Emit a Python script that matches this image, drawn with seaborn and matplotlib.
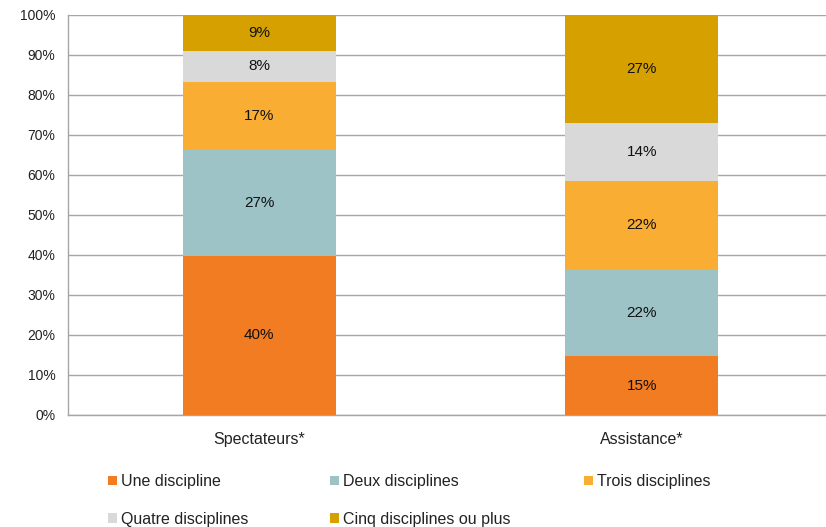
import matplotlib.pyplot as plt
import seaborn as sns
from matplotlib.patches import Patch

# catégories et séries (parts en %)
categories = ["Spectateurs*", "Assistance*"]
series_names = [
    "Une discipline",
    "Deux disciplines",
    "Trois disciplines",
    "Quatre disciplines",
    "Cinq disciplines ou plus",
]
une = [39.8, 14.7]
deux = [26.6, 21.7]
trois = [16.9, 22.1]
quatre = [7.8, 14.6]
cinq = [8.9, 26.9]
labels_une = ["40%", "15%"]
labels_deux = ["27%", "22%"]
labels_trois = ["17%", "22%"]
labels_quatre = ["8%", "14%"]
labels_cinq = ["9%", "27%"]

colors = ["#F17C21", "#9DC3C7", "#F9AD33", "#D9D9D9", "#D5A000"]

sns.set_style("white")
plt.rcParams["font.family"] = ["Liberation Sans", "DejaVu Sans"]

fig = plt.figure(figsize=(8.26, 5.27), dpi=100)
ax = fig.add_axes([68 / 826, 1 - 415 / 527, (833 - 68) / 826, 400 / 527])

series = [une, deux, trois, quatre, cinq]
labels = [labels_une, labels_deux, labels_trois, labels_quatre, labels_cinq]
bottoms = [0.0, 0.0]
for vals, labs, col in zip(series, labels, colors):
    sns.barplot(x=categories, y=vals, bottom=bottoms, color=col,
                width=0.4, ax=ax, saturation=1, linewidth=0, zorder=3)
    for i, (v, lab) in enumerate(zip(vals, labs)):
        ax.text(i, bottoms[i] + v / 2, lab, ha="center", va="center",
                fontsize=11, color="#111111", zorder=4)
    bottoms = [b + v for b, v in zip(bottoms, vals)]

ax.set_xlim(-0.5, 1.5)
ax.set_ylim(0, 100)
ax.set_yticks(range(0, 101, 10))
ax.set_yticklabels([f"{t}%" for t in range(0, 101, 10)], fontsize=10, color="#222222")
ax.set_xticks([0, 1])
ax.set_xticklabels(categories, fontsize=11.5, color="#222222")
ax.set_xticks([-0.5, 0.5, 1.5], minor=True)
ax.tick_params(axis="x", which="major", length=0, pad=12)
ax.tick_params(axis="x", which="minor", length=5, color="#A6A6A6", width=1)
ax.tick_params(axis="y", length=5, color="#A6A6A6", width=1, pad=4)
ax.grid(axis="y", color="#A6A6A6", linewidth=1, zorder=0)
for side in ["top", "right"]:
    ax.spines[side].set_visible(False)
for side in ["left", "bottom"]:
    ax.spines[side].set_color("#A6A6A6")
    ax.spines[side].set_linewidth(1)

# légende en trois colonnes placées à la main
handles = [Patch(facecolor=c, edgecolor="none") for c in colors]
columns = [([0, 3], 108), ([1, 4], 330), ([2], 584)]
for idx, x0 in columns:
    leg = fig.legend([handles[i] for i in idx], [series_names[i] for i in idx],
                     loc="upper left", bbox_to_anchor=(x0 / 826, 1 - 474 / 527),
                     frameon=False, fontsize=11.5, handlelength=0.55,
                     handleheight=0.55, handletextpad=0.25, labelspacing=1.42,
                     borderaxespad=0, borderpad=0)
    for t in leg.get_texts():
        t.set_color("#222222")

fig.savefig("out.png", dpi=100)
